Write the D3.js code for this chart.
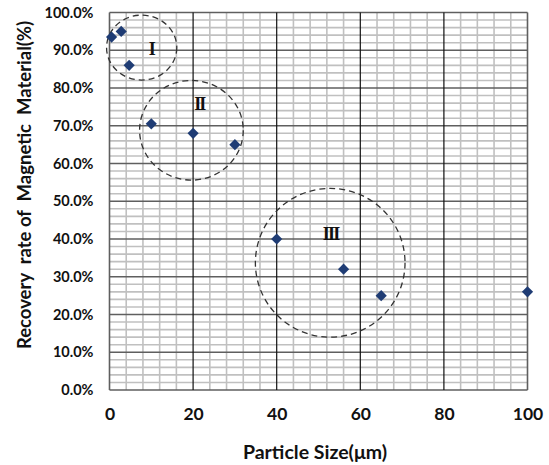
<!DOCTYPE html>
<html>
<head>
<meta charset="utf-8">
<script src="https://cdn.jsdelivr.net/npm/d3@7"></script>
<style>
  body { margin: 0; background: #fff; }
  svg text { font-family: Lato, "Open Sans", sans-serif; font-weight: bold; }
</style>
</head>
<body>
<svg id="chart" width="549" height="465"></svg>
<script>
// particle size (um) and recovery (%)
var sizes    = [0.5, 2.8, 4.7, 10, 20, 30, 40, 56, 65, 100];
var recovery = [93.5, 95, 86, 70.5, 68, 65, 40, 32, 25, 26];

var xTicks = [0, 20, 40, 60, 80, 100];
var yTicks = [0, 10, 20, 30, 40, 50, 60, 70, 80, 90, 100];

// grouping rings drawn round the points (data units)
var groupNames = ['I', 'II', 'III'];
var groupCx    = [7.7, 19.6, 52.8];
var groupCy    = [90.7, 68.8, 33.7];
var groupRx    = [8.4, 12.4, 17.9];
var groupRy    = [8.6, 13.2, 19.7];
var labelX     = [10, 21.5, 52.9];
var labelY     = [90.5, 75.9, 41.5];

var margin = {left: 109.5, top: 12.5, right: 21.5, bottom: 75};
var width = 549 - margin.left - margin.right,
    height = 465 - margin.top - margin.bottom;

var svg = d3.select('#chart');
var chart = svg.append('g')
    .attr('transform', 'translate(' + margin.left + ',' + margin.top + ')');

var x = d3.scaleLinear().domain([0, 100]).range([0, width]);
var y = d3.scaleLinear().domain([0, 100]).range([height, 0]);

// minor grid
chart.append('g')
    .selectAll('line')
    .data(d3.range(0, 101, 4).filter(function(d) { return d % 20 !== 0; }))
    .enter().append('line')
    .attr('x1', function(d) { return x(d); })
    .attr('x2', function(d) { return x(d); })
    .attr('y1', 0).attr('y2', height)
    .attr('stroke', '#c0c0c0').attr('stroke-width', 1.6);

chart.append('g')
    .selectAll('line')
    .data(d3.range(0, 101, 2).filter(function(d) { return d % 10 !== 0; }))
    .enter().append('line')
    .attr('y1', function(d) { return y(d); })
    .attr('y2', function(d) { return y(d); })
    .attr('x1', 0).attr('x2', width)
    .attr('stroke', '#c0c0c0').attr('stroke-width', 1.6);

// major grid
chart.append('g')
    .selectAll('line')
    .data(yTicks)
    .enter().append('line')
    .attr('y1', function(d) { return y(d); })
    .attr('y2', function(d) { return y(d); })
    .attr('x1', 0).attr('x2', width)
    .attr('stroke', '#5f5f5f').attr('stroke-width', 1.6);

chart.append('g')
    .selectAll('line')
    .data(xTicks)
    .enter().append('line')
    .attr('x1', function(d) { return x(d); })
    .attr('x2', function(d) { return x(d); })
    .attr('y1', 0).attr('y2', height)
    .attr('stroke', function(d) { return (d === 0 || d === 100) ? '#5f5f5f' : '#111'; })
    .attr('stroke-width', function(d) { return (d === 0 || d === 100) ? 1.6 : 1.2; });

// axes (labels only)
var xAxis = chart.append('g')
    .attr('transform', 'translate(0,' + height + ')')
    .call(d3.axisBottom(x).tickValues(xTicks).tickSize(0).tickPadding(18));
xAxis.select('.domain').remove();
xAxis.selectAll('text').style('font-size', '17.5px').attr('fill', '#111');

var yAxis = chart.append('g')
    .call(d3.axisLeft(y).tickValues(yTicks).tickSize(0).tickPadding(16)
      .tickFormat(function(d) { return d.toFixed(1) + '%'; }));
yAxis.select('.domain').remove();
yAxis.selectAll('text').style('font-size', '14.5px').attr('fill', '#111');

// titles
svg.append('text')
    .attr('x', 315).attr('y', 459)
    .attr('text-anchor', 'middle')
    .style('font-size', '19.5px')
    .attr('fill', '#111')
    .text('Particle Size(\u03bcm)');

svg.append('text')
    .attr('transform', 'translate(31,185) rotate(-90)')
    .attr('text-anchor', 'middle')
    .style('font-size', '18.5px')
    .style('white-space', 'pre')
    .attr('fill', '#111')
    .text('Recovery  rate of  Magnetic  Material(%)');

// dashed rings
chart.append('g')
    .selectAll('ellipse')
    .data(groupNames)
    .enter().append('ellipse')
    .attr('cx', function(d, i) { return x(groupCx[i]); })
    .attr('cy', function(d, i) { return y(groupCy[i]); })
    .attr('rx', function(d, i) { return x(groupRx[i]) - x(0); })
    .attr('ry', function(d, i) { return y(0) - y(groupRy[i]); })
    .attr('fill', 'none')
    .attr('stroke', '#333')
    .attr('stroke-width', 1.3)
    .attr('stroke-dasharray', '6,4');

chart.append('g')
    .selectAll('text')
    .data(groupNames)
    .enter().append('text')
    .attr('x', function(d, i) { return x(labelX[i]); })
    .attr('y', function(d, i) { return y(labelY[i]); })
    .attr('dy', '0.35em')
    .attr('text-anchor', 'middle')
    .style('font-family', '"Liberation Serif", "DejaVu Serif", serif')
    .style('font-size', '18px')
    .style('letter-spacing', '-1.8px')
    .attr('fill', '#111')
    .text(function(d) { return d; });

// points
chart.append('g')
    .selectAll('path')
    .data(sizes)
    .enter().append('path')
    .attr('d', d3.symbol().type(d3.symbolDiamond2).size(80))
    .attr('transform', function(d, i) { return 'translate(' + x(d) + ',' + y(recovery[i]) + ')'; })
    .attr('fill', '#1f3c74');
</script>
</body>
</html>
